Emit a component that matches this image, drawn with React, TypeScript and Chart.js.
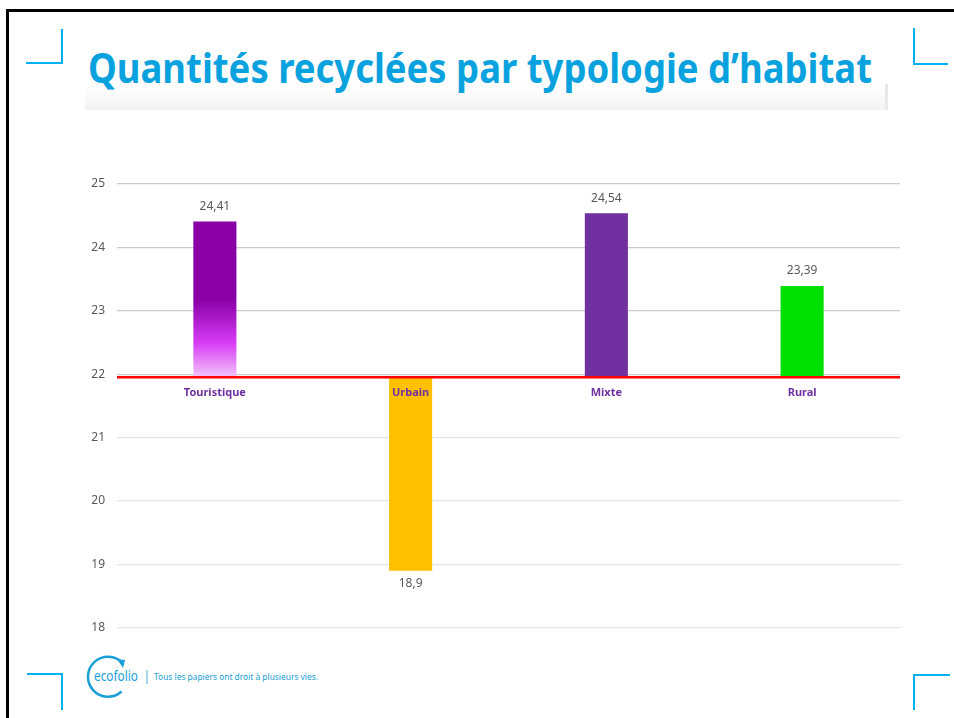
import React, { useEffect, useRef } from "react";
import { Chart, registerables } from "chart.js";

Chart.register(...registerables);

const categories = ["Touristique", "Urbain", "Mixte", "Rural"];
const values = [24.41, 18.9, 24.54, 23.39];
const valueLabels = ["24,41", "18,9", "24,54", "23,39"];
const barColors = ["#8a00a8", "#ffc000", "#7030a0", "#00e000"];
const baseline = 21.95;
const yMin = 18;
const yMax = 25;

const FONT = "'Noto Sans', sans-serif";

const overlayPlugin = {
  id: "overlay",
  afterDatasetsDraw(chart: any) {
    const { ctx, scales, chartArea } = chart;
    const x = scales.x;
    const y = scales.y;
    const by = y.getPixelForValue(baseline);
    ctx.save();
    ctx.strokeStyle = "#ff0000";
    ctx.lineWidth = 2.5;
    ctx.beginPath();
    ctx.moveTo(chartArea.left, by);
    ctx.lineTo(chartArea.right, by);
    ctx.stroke();
    ctx.font = `12px ${FONT}`;
    ctx.fillStyle = "#595959";
    ctx.textAlign = "center";
    ctx.textBaseline = "middle";
    values.forEach((v, i) => {
      const cx = x.getPixelForValue(i);
      const vy = y.getPixelForValue(v);
      const ty = v >= baseline ? vy - 15 : vy + 13;
      ctx.fillText(valueLabels[i], cx, ty);
    });
    ctx.font = `bold 11px ${FONT}`;
    ctx.fillStyle = "#7030a0";
    categories.forEach((c, i) => {
      const cx = x.getPixelForValue(i);
      ctx.fillText(c, cx, by + 15);
    });
    ctx.restore();
  },
};

export default function App() {
  const canvasRef = useRef<HTMLCanvasElement>(null);

  useEffect(() => {
    const canvas = canvasRef.current;
    if (!canvas) return;
    const chart = new Chart(canvas, {
      type: "bar",
      data: {
        labels: categories,
        datasets: [
          {
            data: values.map((v) => [baseline, v]) as any,
            backgroundColor: (ctx: any) => {
              const i = ctx.dataIndex;
              if (i !== 0) return barColors[i];
              const chartRef = ctx.chart;
              const ys = chartRef.scales && chartRef.scales.y;
              if (!chartRef.chartArea || !ys) return barColors[0];
              const top = ys.getPixelForValue(values[0]);
              const bot = ys.getPixelForValue(baseline);
              const g = chartRef.ctx.createLinearGradient(0, top, 0, bot);
              g.addColorStop(0, "#8800a6");
              g.addColorStop(0.5, "#8800a6");
              g.addColorStop(0.78, "#d83cf6");
              g.addColorStop(1, "#f2c8f8");
              return g;
            },
            borderWidth: 0,
            barPercentage: 0.22,
            categoryPercentage: 1,
          },
        ],
      },
      options: {
        animation: false,
        responsive: true,
        maintainAspectRatio: false,
        layout: { padding: { left: 0, right: 10, top: 24, bottom: 6 } },
        plugins: {
          legend: { display: false },
          tooltip: { enabled: false },
          title: { display: false },
        },
        scales: {
          x: { display: false },
          y: {
            min: yMin,
            max: yMax,
            afterFit: (scale: any) => {
              scale.width = 37;
            },
            border: { display: false },
            grid: {
              drawTicks: false,
              color: (c: any) => (c.tick && c.tick.value >= 22 ? "#cccccc" : "#e4e4e4"),
              lineWidth: 1.2,
            },
            ticks: {
              stepSize: 1,
              padding: 12,
              color: "#595959",
              font: { family: FONT, size: 12 },
            },
          },
        },
      },
      plugins: [overlayPlugin],
    });
    return () => chart.destroy();
  }, []);

  const blue = "#00b0f0";
  const titleBlue = "#0aa2de";
  const footBlue = "#1a9fd8";

  return (
    <div
      style={{
        position: "fixed",
        left: 0,
        top: 0,
        width: 954,
        height: 718,
        overflow: "hidden",
        background: "#ffffff",
      }}
    >
      <svg
        width={954}
        height={718}
        style={{ position: "absolute", left: 0, top: 0 }}
      >
        <defs>
          <linearGradient id="shadeV" x1="0" y1="0" x2="0" y2="1">
            <stop offset="0" stopColor="#ffffff" />
            <stop offset="1" stopColor="#f3f3f3" />
          </linearGradient>
        </defs>
        <line x1={6} y1={10.5} x2={954} y2={10.5} stroke="#000" strokeWidth={3} />
        <line x1={7.5} y1={9} x2={7.5} y2={718} stroke="#000" strokeWidth={3} />
        <rect x={85} y={84} width={803} height={26} fill="url(#shadeV)" />
        <rect x={885} y={84} width={3} height={26} fill="#e8e8e8" />
        <polyline points="26,63 62,63 62,29" fill="none" stroke={blue} strokeWidth={2} />
        <polyline points="914,28 914,64 948,64" fill="none" stroke={blue} strokeWidth={2} />
        <polyline points="27,674 62,674 62,710" fill="none" stroke={blue} strokeWidth={2} />
        <polyline points="950,675 914,675 914,710" fill="none" stroke={blue} strokeWidth={2} />
        <text
          x={88}
          y={83}
          textLength={784}
          lengthAdjust="spacingAndGlyphs"
          fill={titleBlue}
          style={{ fontFamily: FONT, fontWeight: 700, fontSize: 41 }}
        >
          Quantités recyclées par typologie d’habitat
        </text>
        <path
          d="M 122.5 663 A 20 20 0 1 0 121.5 691.5"
          fill="none"
          stroke={footBlue}
          strokeWidth={2.5}
        />
        <polygon points="117,659 125,660 123,668" fill={footBlue} />
        <text
          x={94}
          y={681}
          textLength={44}
          lengthAdjust="spacingAndGlyphs"
          fill={footBlue}
          style={{ fontFamily: FONT, fontSize: 14 }}
        >
          ecofolio
        </text>
        <line x1={147} y1={670} x2={147} y2={684} stroke={footBlue} strokeWidth={0.8} />
        <text
          x={154}
          y={680}
          textLength={164}
          lengthAdjust="spacingAndGlyphs"
          fill={footBlue}
          style={{ fontFamily: FONT, fontSize: 9 }}
        >
          Tous les papiers ont droit à plusieurs vies.
        </text>
      </svg>
      <div
        style={{
          position: "absolute",
          left: 80,
          top: 160,
          width: 830,
          height: 487,
        }}
      >
        <canvas ref={canvasRef} />
      </div>
    </div>
  );
}
